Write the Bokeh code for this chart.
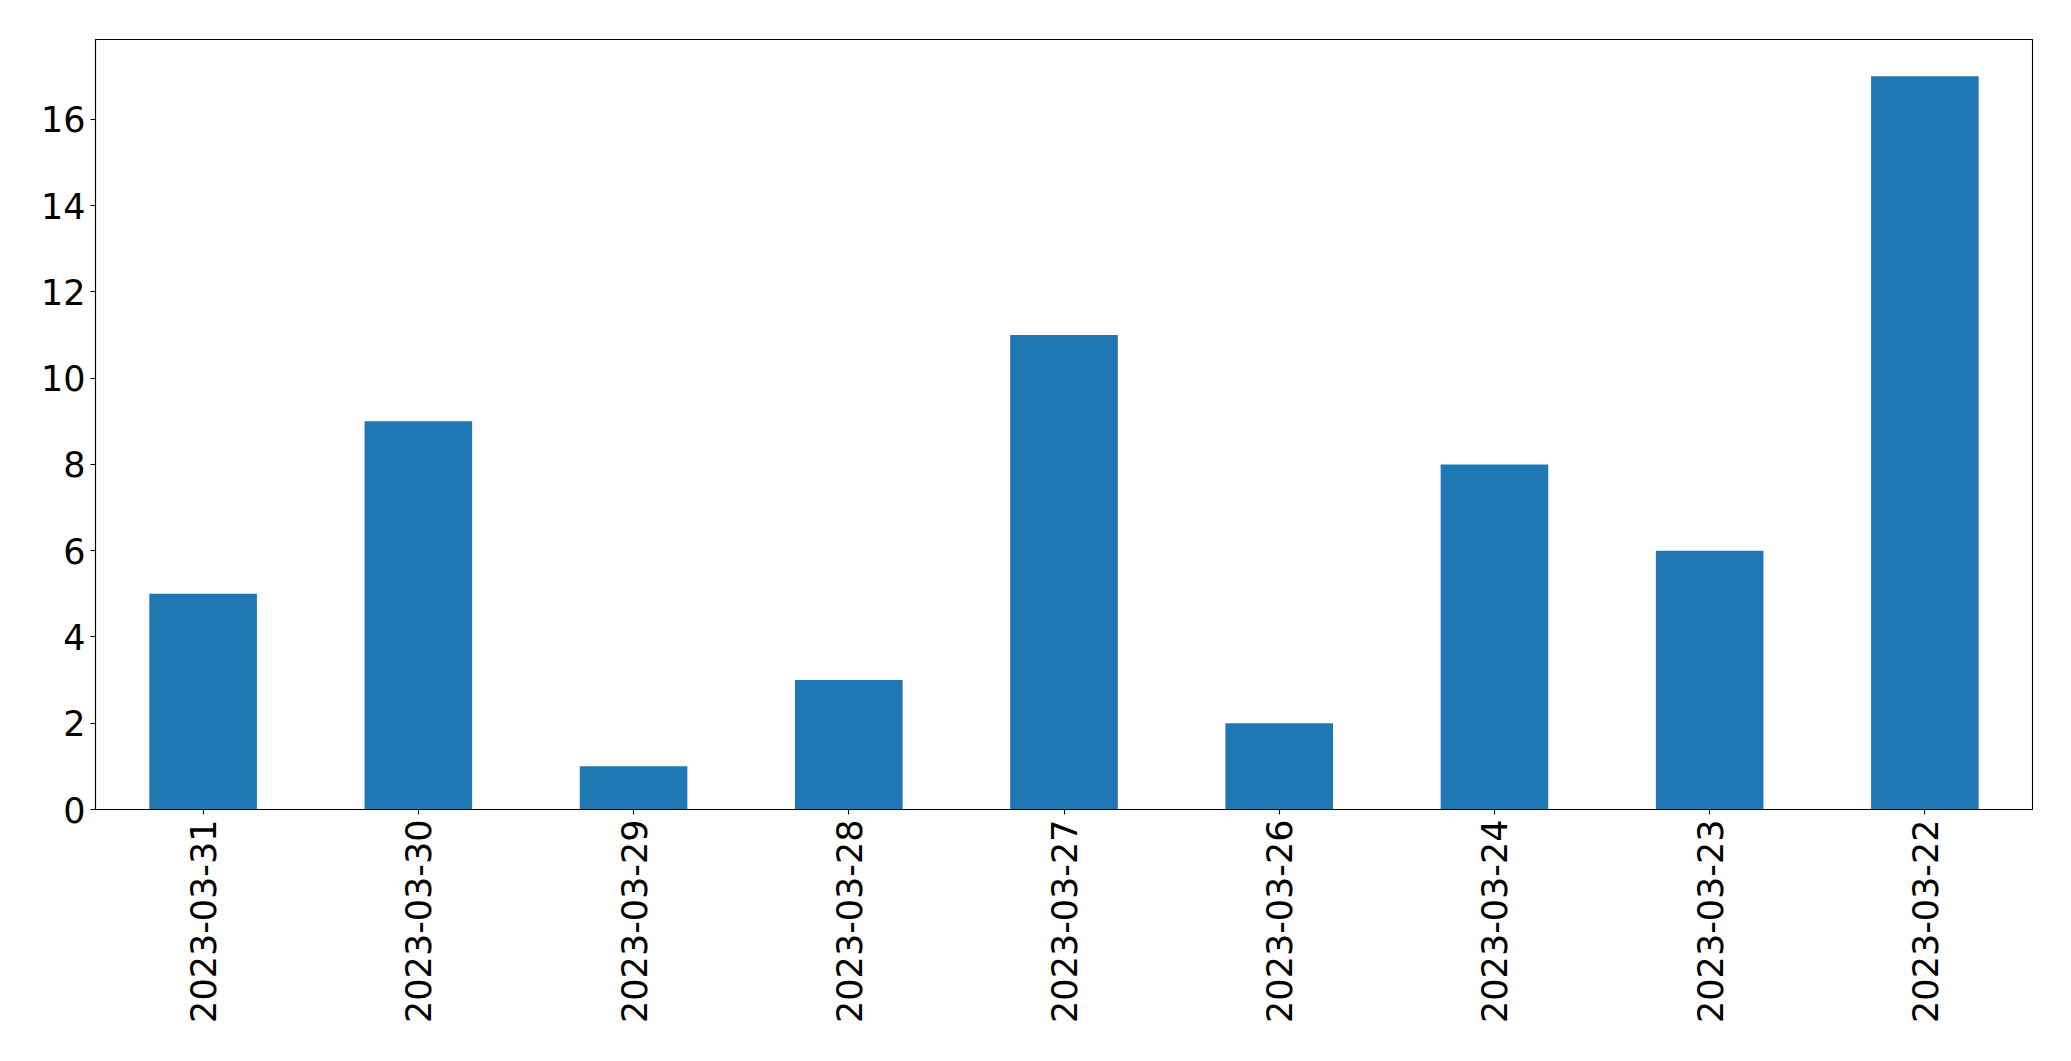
import math
from bokeh.plotting import figure
from bokeh.models import FactorRange, Range1d, FixedTicker, ColumnDataSource
from bokeh.embed import file_html
from bokeh.resources import INLINE

dates = ["2023-03-31", "2023-03-30", "2023-03-29", "2023-03-28", "2023-03-27",
         "2023-03-26", "2023-03-24", "2023-03-23", "2023-03-22"]
counts = [5, 9, 1, 3, 11, 2, 8, 6, 17]
y_ticks = [0, 2, 4, 6, 8, 10, 12, 14, 16]

src = ColumnDataSource(dict(date=dates, count=counts))

p = figure(width=2055, height=1045, output_backend="svg", toolbar_location=None,
           x_range=FactorRange(factors=dates), y_range=Range1d(0, 17.85),
           min_border_left=95, min_border_right=23, min_border_top=39, min_border_bottom=236)

p.vbar(x="date", top="count", width=0.5, source=src, color="#1f77b4", line_color=None)

p.xgrid.visible = False
p.ygrid.visible = False
p.outline_line_color = "black"
p.outline_line_width = 1.1

for ax in (p.xaxis[0], p.yaxis[0]):
    ax.major_label_text_font = "DejaVu Sans"
    ax.major_label_text_font_size = "35px"
    ax.major_label_text_color = "black"
    ax.axis_line_color = "black"
    ax.axis_line_width = 1.1
    ax.major_tick_line_color = "black"
    ax.major_tick_line_width = 1.1
    ax.major_tick_out = 5
    ax.major_tick_in = 0
    ax.minor_tick_line_color = None
    ax.major_label_standoff = 5

p.yaxis[0].ticker = FixedTicker(ticks=y_ticks)
p.xaxis[0].major_label_orientation = math.pi / 2

p.background_fill_color = "white"
p.border_fill_color = "white"

open("out.html", "w").write(file_html(p, INLINE))
